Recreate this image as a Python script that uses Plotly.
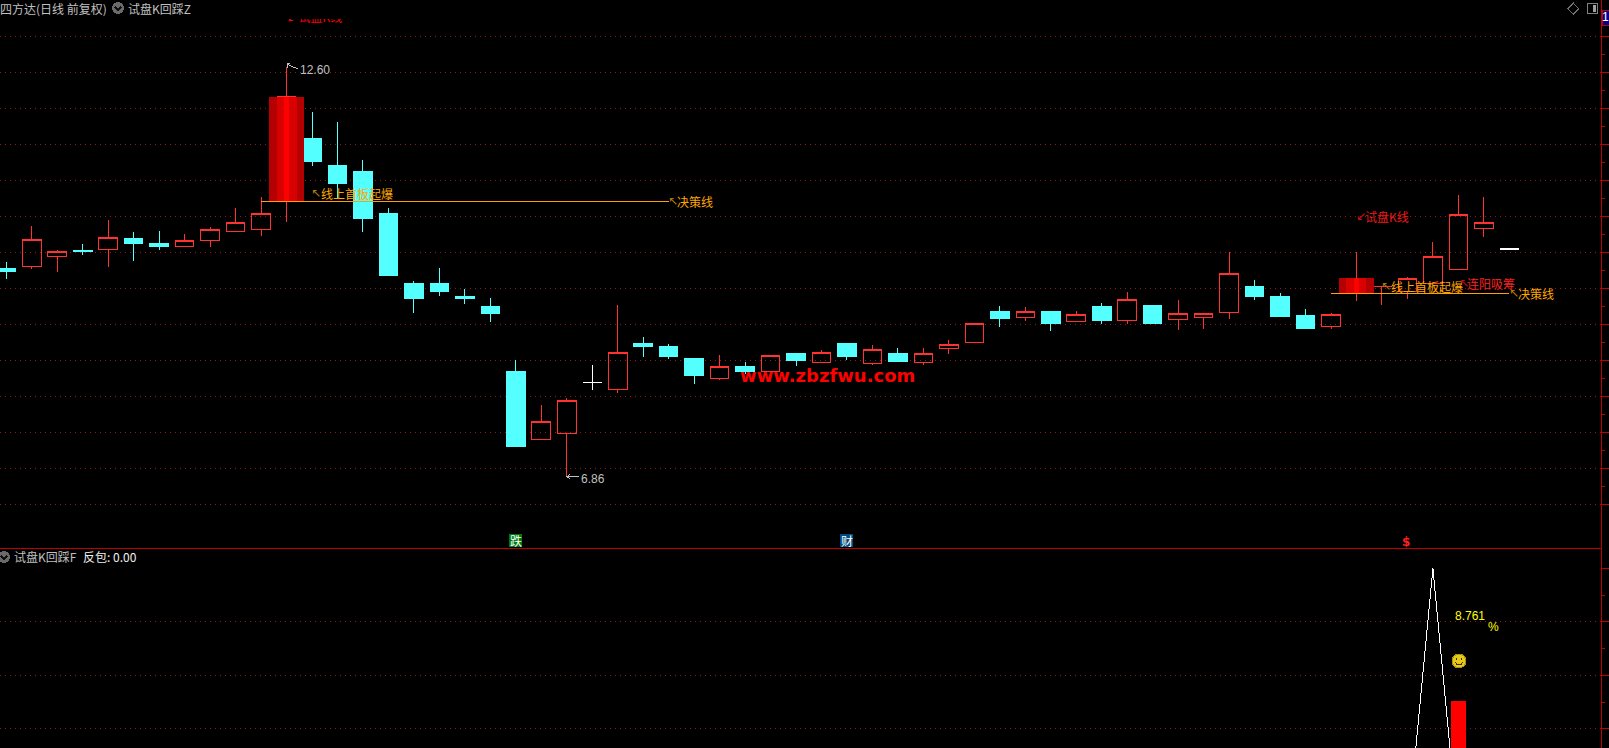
import plotly.graph_objects as go

# ---- data (prices) ----
OPEN = [9.77,9.81,9.95,10.03,10.04,10.20,10.12,10.08,10.17,10.30,10.32,10.72,11.60,11.22,11.14,10.54,
        9.57,9.56,9.38,9.25,8.34,7.38,7.46,8.18,8.08,8.72,8.68,8.51,8.23,8.40,8.33,8.59,8.46,8.72,8.45,8.59,
        8.46,8.65,8.74,9.17,9.09,9.17,9.03,9.25,9.05,9.26,9.06,9.09,9.16,9.53,9.38,9.12,8.96,9.43,9.52,9.45,
        9.56,9.76,10.33,10.05]
HIGH = [9.87,10.37,10.03,10.12,10.45,10.29,10.30,10.26,10.35,10.62,10.78,12.60,11.97,11.83,11.29,10.62,
        9.60,9.78,9.49,9.36,8.49,7.86,7.96,8.42,9.26,8.82,8.72,8.52,8.56,8.47,8.56,8.59,8.63,8.72,8.70,8.66,
        8.66,8.77,9.01,9.25,9.24,9.17,9.18,9.29,9.45,9.26,9.33,9.15,10.01,9.61,9.43,9.21,9.15,10.01,9.53,9.66,
        10.15,10.80,10.78,10.05]
LOW = [9.63,9.77,9.72,9.96,9.80,9.88,10.04,10.08,10.08,10.28,10.23,10.43,11.21,10.76,10.29,9.68,
       9.15,9.39,9.28,9.03,7.28,7.38,6.86,8.07,8.03,8.54,8.51,8.16,8.21,8.30,8.33,8.41,8.46,8.49,8.42,8.48,
       8.42,8.58,8.74,8.96,9.04,8.90,9.03,9.00,9.00,9.00,8.91,8.93,9.07,9.33,9.11,8.93,8.93,9.32,9.26,9.35,
       9.56,9.76,10.22,10.04]
CLOSE = [9.74,10.18,10.01,10.02,10.21,10.12,10.08,10.17,10.32,10.42,10.55,12.18,11.28,10.97,10.48,9.68,
         9.36,9.45,9.35,9.15,7.28,7.64,7.93,8.18,8.60,8.68,8.54,8.28,8.41,8.33,8.56,8.49,8.60,8.55,8.64,8.48,
         8.59,8.71,9.01,9.07,9.18,9.00,9.13,9.05,9.34,9.01,9.15,9.15,9.71,9.39,9.11,8.93,9.13,9.64,9.53,9.64,
         9.95,10.53,10.42,10.04]
DOJI_WHITE = [23, 59]
BOARD_BARS = [11, 53]
LINE_1_FROM, LINE_1_TO = 10, 26
LINE_2_FROM, LINE_2_TO = 52, 59
LINE_1_PRICE, LINE_2_PRICE = 10.72, 9.43

FANBAO = [0.0] * 60
FANBAO[56] = 100.0
BAR_IDX = [57]
BAR_VAL = [50.4]
LOWER_GRID = [40, 60, 80]
LOWER_TICKS = [40, 60, 80, 100]
LOWER_MINOR = [50, 70, 90]

MAJOR = [13.026 - 0.504 * k for k in range(14)]
MINOR = [m - 0.252 for m in MAJOR[:-1]] + [13.278]

N = len(OPEN)
X = list(range(N))
RED, CYAN, AXIS, GRID, GREY = "#ff3232", "#54ffff", "#c00000", "#8c1c1c", "#c0c0c0"
ORANGE, DIM_ORANGE = "#ffa800", "#b87800"

W, H, MR = 1609, 748, 8
def px(v): return v / (W - MR)
def py(v): return 1 - v / H

XR = [(0 - 6.3) / 25.475, (W - MR - 6.3) / 25.475]
def price(y): return 13.534 - 0.014 * y
SPLIT = 548.3

fig = go.Figure()

main = [i for i in X if i not in DOJI_WHITE]
white = DOJI_WHITE
def pick(a, idx): return [a[i] for i in idx]

fig.add_trace(go.Candlestick(x=main, open=pick(OPEN, main), high=pick(HIGH, main), low=pick(LOW, main),
                             close=pick(CLOSE, main),
                             increasing=dict(line=dict(color=RED, width=1), fillcolor="rgba(0,0,0,0)"),
                             decreasing=dict(line=dict(color=CYAN, width=1), fillcolor=CYAN),
                             whiskerwidth=0, hoverinfo="skip", showlegend=False))
fig.add_trace(go.Candlestick(x=white, open=pick(OPEN, white), high=pick(HIGH, white), low=pick(LOW, white),
                             close=pick(CLOSE, white),
                             increasing=dict(line=dict(color="#ffffff", width=1), fillcolor="#ffffff"),
                             decreasing=dict(line=dict(color="#ffffff", width=1), fillcolor="#ffffff"),
                             whiskerwidth=0, hoverinfo="skip", showlegend=False))

# gradient limit-up bars
for i in BOARD_BARS:
    for w, c in ((35, "#b40000"), (20, "#d80000"), (5, "#ff0000")):
        fig.add_trace(go.Scatter(x=[i, i], y=[OPEN[i], CLOSE[i]], mode="lines",
                                 line=dict(color=c, width=w), hoverinfo="skip", showlegend=False))

# decision lines
for a, b, p in ((LINE_1_FROM, LINE_1_TO, LINE_1_PRICE), (LINE_2_FROM, LINE_2_TO, LINE_2_PRICE)):
    fig.add_trace(go.Scatter(x=[a, b], y=[p, p], mode="lines", line=dict(color="#ffa000", width=1),
                             hoverinfo="skip", showlegend=False))

# half-clipped label on top of the main panel
fig.add_trace(go.Scatter(x=[11], y=[price(19)], xaxis="x", yaxis="y3", mode="text",
                         text=["↙试盘K线"], textposition="middle right",
                         textfont=dict(color="#ff0000", size=12, family="Noto Sans CJK SC"),
                         hoverinfo="skip", showlegend=False))

# lower panel
fig.add_trace(go.Bar(x=BAR_IDX, y=BAR_VAL, width=[15 / 25.475], marker=dict(color="#ff0000", line=dict(width=0)),
                     xaxis="x2", yaxis="y2", hoverinfo="skip", showlegend=False))
fig.add_trace(go.Scatter(x=X, y=FANBAO, mode="lines", line=dict(color="#ffffff", width=1),
                         xaxis="x2", yaxis="y2", hoverinfo="skip", showlegend=False))

ann = []
def label(t, x, y, color=GREY, size=12, family="Noto Sans CJK SC", bold=False, anchor="left"):
    ann.append(dict(text=f"<b>{t}</b>" if bold else t, x=px(x), y=py(y), xref="paper", yref="paper",
                    xanchor=anchor, yanchor="middle", showarrow=False, borderpad=0, borderwidth=0,
                    font=dict(color=color, size=size, family=family)))

label("四方达(日线 前复权)", 0, 8.5, size=12)
label("试盘K回踩Z", 128, 8.5, size=12)
label("试盘K回踩F", 14, 556.7, size=12)
label("反包: 0.00", 82.5, 556.7, color="#f0f0f0", size=12)
label("12.60", 300, 70, family="Liberation Sans")
label("6.86", 581, 479, family="Liberation Sans")

for t, ax, tx, y, c, dc in (("线上首板起爆", 311, 320.7, 193.3, ORANGE, DIM_ORANGE),
                            ("决策线", 668, 677, 201, ORANGE, DIM_ORANGE),
                            ("线上首板起爆", 1381, 1390.7, 286, ORANGE, DIM_ORANGE),
                            ("连阳吸筹", 1458.5, 1466.7, 283.3, "#ff2020", "#c01010"),
                            ("决策线", 1509, 1518, 293.3, ORANGE, DIM_ORANGE)):
    label("↖", ax, y, color=dc, size=12, family="DejaVu Sans")
    label(t, tx, y, color=c)
label("↙", 1356, 216, color="#d01010", size=12, family="DejaVu Sans")
label("试盘K线", 1365.3, 216, color="#f01818")

label("www.zbzfwu.com", 740, 375, color="#ff0000", size=18, family="DejaVu Sans", bold=True)
label("$", 1405.7, 542, color="#ff2020", size=12, family="DejaVu Sans", bold=True, anchor="center")
label("8.761", 1454.5, 615.7, color="#ffff00", family="Liberation Sans")
label("%", 1487.5, 626.7, color="#ffff00", family="Liberation Sans")
label("1", 1605.5, 17, color="#ffffff", size=12, family="Liberation Sans", anchor="center")

shapes = []
for v in LOWER_GRID:
    shapes.append(dict(type="line", xref="paper", x0=0, x1=1, yref="y2", y0=v, y1=v,
                       line=dict(color=GRID, width=1, dash="1px,4px"), layer="below"))

def circle(cx, cy, r, fill, line="rgba(0,0,0,0)"):
    shapes.append(dict(type="circle", xref="paper", yref="paper", x0=px(cx - r), x1=px(cx + r),
                       y0=py(cy + r), y1=py(cy - r), fillcolor=fill, line=dict(color=line, width=1)))

def path(points, color, width=1, fill=None, close=False):
    d = "M " + " L ".join(f"{px(a):.6f},{py(b):.6f}" for a, b in points) + (" Z" if close else "")
    shapes.append(dict(type="path", xref="paper", yref="paper", path=d, line=dict(color=color, width=width),
                       fillcolor=fill if fill else "rgba(0,0,0,0)"))

def rect(x0, y0, x1, y1, fill, line_color=None):
    shapes.append(dict(type="rect", xref="paper", yref="paper", x0=px(x0), x1=px(x1), y0=py(y1), y1=py(y0),
                       fillcolor=fill, line=dict(color=line_color or "rgba(0,0,0,0)", width=1 if line_color else 0)))

# signal tags above the divider
rect(509, 534, 522, 547, "#007a10")
rect(840, 534, 853, 547, "#004a80")
label("跌", 515.5, 540.5, color="#ffffff", anchor="center")
label("财", 846.5, 540.5, color="#ffffff", anchor="center")

# high/low pointers
path([(290, 63.5), (287, 64), (287, 68)], GREY)
path([(287, 64), (293, 67), (298, 68.5)], GREY)
path([(570, 474.5), (567, 476.7), (570, 479)], GREY)
path([(567, 476.7), (579, 476.7)], GREY)

# dropdown icons
for cx, cy in ((118, 8), (4, 557)):
    circle(cx, cy, 6, "#6a6a6a")
    path([(cx - 3, cy - 1), (cx, cy + 2), (cx + 3, cy - 1)], "#111111", 1.5)

# top-right icons
path([(1573.3, 3), (1578.8, 8.7), (1573.3, 14.4), (1567.8, 8.7)], "#707070", 1, close=True)
rect(1587, 3.5, 1597.5, 13.5, "rgba(0,0,0,0)", "#808080")
rect(1592.5, 5, 1596, 12, "#a0a0a0")
rect(1602, 10, 1609, 25, "#000090", "#c00000")

# smiley
circle(1459, 661, 7, "#e8c818", "#b09010")
circle(1456.6, 659, 0.8, "#403000")
circle(1461.4, 659, 0.8, "#403000")
path([(1455.5, 662.5), (1457, 664.5), (1459, 665), (1461, 664.5), (1462.5, 662.5)], "#403000", 1)

fig.update_layout(
    width=W, height=H, margin=dict(l=0, r=MR, t=0, b=0, pad=0, autoexpand=False),
    paper_bgcolor="#000000", plot_bgcolor="#000000", showlegend=False, hovermode=False,
    boxgap=0.27, boxgroupgap=0, bargap=0,
    annotations=ann, shapes=shapes,
    xaxis=dict(domain=[0, 1], range=XR, anchor="y", rangeslider=dict(visible=False), showgrid=False, zeroline=False,
               showticklabels=False, ticks="", showline=True, linecolor=AXIS, linewidth=1),
    xaxis2=dict(domain=[0, 1], range=XR, anchor="y2", showgrid=False, zeroline=False, showticklabels=False,
                ticks="", showline=False),
    yaxis=dict(domain=[1 - SPLIT / H, 1], range=[price(SPLIT), price(0)], side="right", anchor="x",
               tickmode="array", tickvals=MAJOR, ticks="outside", ticklen=8, tickcolor=AXIS, tickwidth=1,
               showticklabels=False, zeroline=False, showgrid=True, gridcolor=GRID, griddash="1px,4px", gridwidth=1,
               showline=True, linecolor=AXIS, linewidth=1,
               minor=dict(tickmode="array", tickvals=MINOR, ticks="outside", ticklen=3, tickcolor=AXIS, showgrid=False)),
    yaxis2=dict(domain=[0, 1 - SPLIT / H], range=[(836 - H) / 2.677, (836 - SPLIT) / 2.677], side="right", anchor="x2",
                tickmode="array", tickvals=LOWER_TICKS, ticks="outside", ticklen=8, tickcolor=AXIS, tickwidth=1,
                showticklabels=False, zeroline=False, showgrid=False, showline=True, linecolor=AXIS, linewidth=1,
                minor=dict(tickmode="array", tickvals=LOWER_MINOR, ticks="outside", ticklen=3, tickcolor=AXIS, showgrid=False)),
    yaxis3=dict(domain=[1 - 25.5 / H, 1 - 19 / H], range=[price(25.5), price(19)], anchor="x", visible=False),
)

POST = ("document.body.style.margin='0';document.body.style.overflow='hidden';document.body.style.background='#000';"
        "var s=document.createElement('style');s.textContent='.main-svg path,.main-svg line,.main-svg rect{shape-rendering:crispEdges}';"
        "document.head.appendChild(s);")
fig.write_html("out.html", config={"displayModeBar": False}, post_script=POST)
